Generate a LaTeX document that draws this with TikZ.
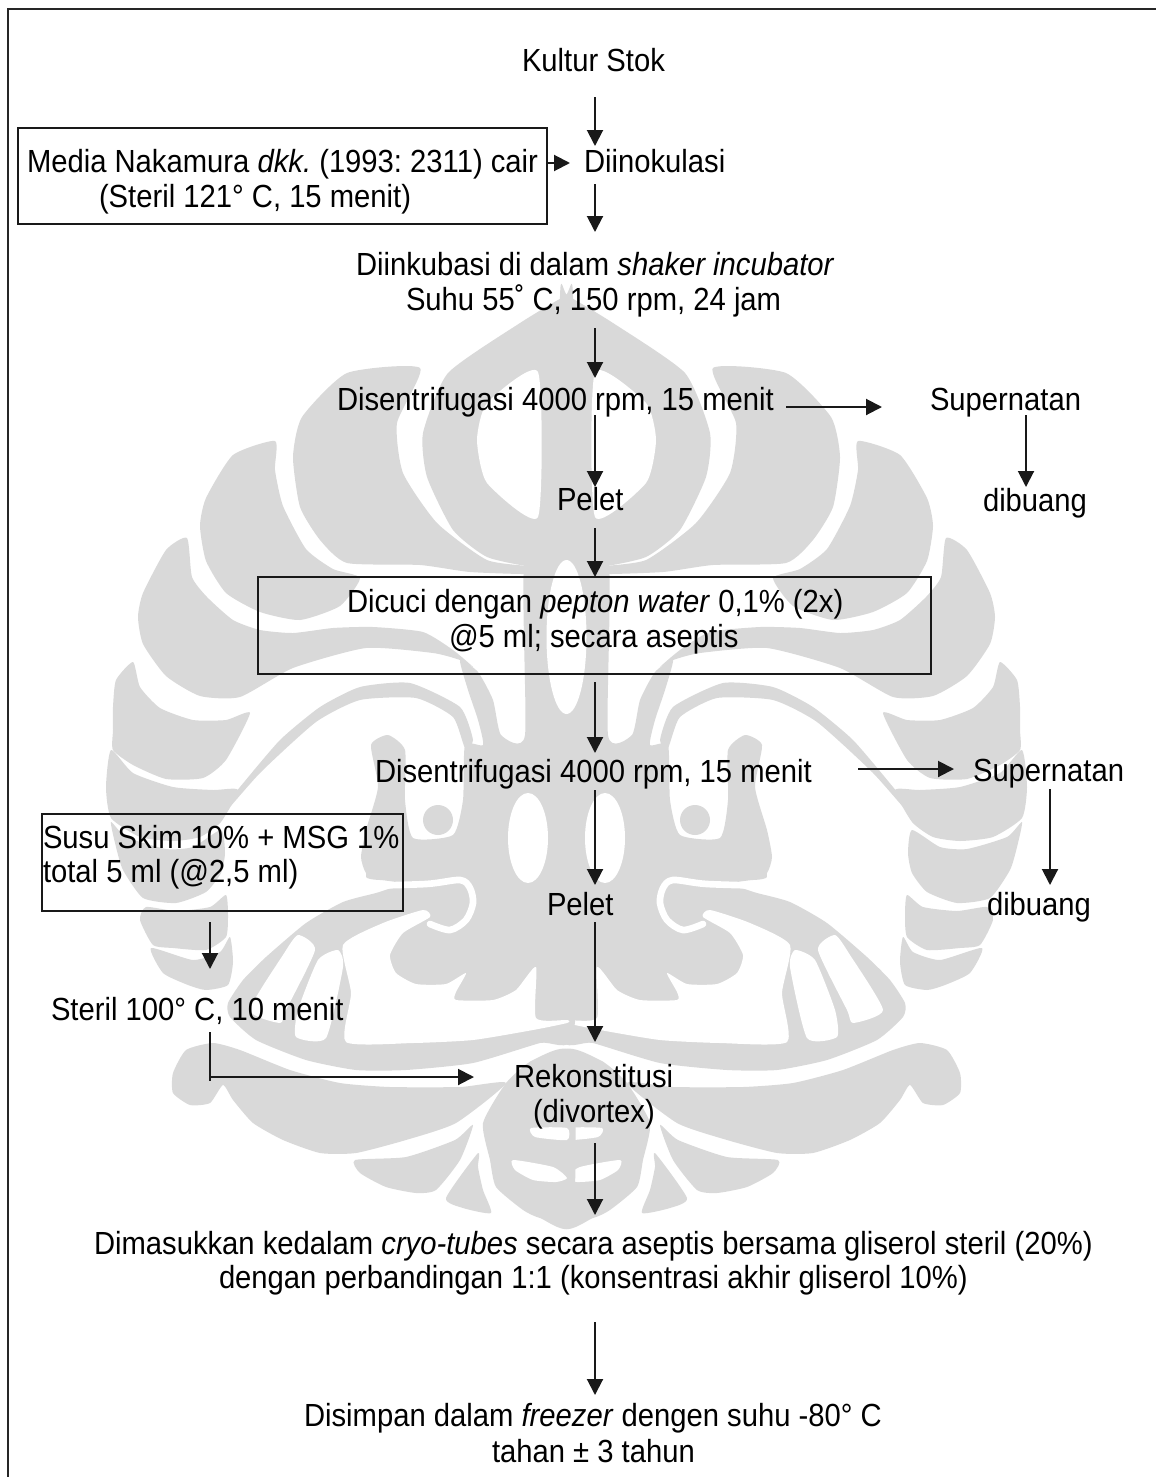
\documentclass[tikz,border=0pt]{standalone}
\usepackage{fontspec}
\setmainfont[FakeStretch=0.913]{Liberation Sans}
\usetikzlibrary{arrows.meta}
\frenchspacing
\definecolor{wmgray}{RGB}{217,217,217}
\tikzset{
  wm/.style={fill=wmgray,draw=none},
  wh/.style={fill=white,draw=none},
  txt/.style={anchor=base west,inner sep=0pt,outer sep=0pt,text=black,font=\fontsize{24pt}{30pt}\selectfont},
  arr/.style={line width=1.5pt,draw=black!90,-{Triangle[length=12pt,width=12pt]}},
  boxs/.style={draw=black!90,line width=1.5pt,inner sep=0pt,outer sep=0pt,fill=none},
  frameline/.style={line width=1.8pt,draw=black!85}
}
\newcommand{\gblob}[1]{\fill[wm] plot[smooth cycle,tension=0.35] coordinates {#1};}
\newcommand{\wblob}[1]{\fill[wh] plot[smooth cycle,tension=0.35] coordinates {#1};}
\newcommand{\wmhalf}{%
  % top teardrop and lobes
  \gblob{(560,296)(568,296)(613,323)(685,373)(710,433)(706,477)(680,530)(646,557)(600,567)(560,567)}
  \gblob{(713,368)(786,373)(831,417)(840,457)(833,507)(813,540)(786,563)(713,565)(663,572)(600,574)(598,567)(646,560)(696,523)(730,473)(736,423)}
  \gblob{(858,441)(900,455)(927,498)(933,526)(927,561)(907,593)(873,612)(833,620)(793,606)(773,578)(800,569)(827,549)(850,506)(858,470)}
  \gblob{(946,538)(967,550)(990,593)(995,617)(990,644)(967,676)(933,696)(893,697)(840,668)(767,648)(700,653)(673,660)(660,667)(680,650)(710,632)(760,627)(800,628)(840,633)(873,630)(900,620)(926,597)(941,577)}
  % central column and mass
  \gblob{(560,555)(608,555)(608,735)(632,735)(640,700)(655,672)(673,660)(665,690)(655,720)(650,745)(668,745)(670,800)(680,835)(720,838)(728,800)(728,750)(745,735)(762,745)(755,787)(767,830)(772,857)(767,873)(753,880)(560,882)}
  \gblob{(560,878)(707,880)(757,893)(790,902)(827,923)(867,957)(890,980)(905,1003)(903,1017)(877,1040)(827,1060)(777,1070)(727,1070)(660,1063)(593,1043)(560,1037)}
  % nested arc and outer lobes
  \gblob{(660,740)(673,707)(723,683)(773,687)(813,707)(853,740)(893,787)(915,815)(917,823)(873,773)(817,722)(773,700)(717,698)(680,717)(668,748)}
  \gblob{(883,713)(907,720)(940,720)(973,708)(993,687)(1000,662)(1017,680)(1020,707)(1020,730)(1020,750)(1000,765)(967,779)(930,778)(907,760)}
  \gblob{(1022,750)(1027,787)(1022,818)(993,837)(960,841)(933,837)(912,822)(895,790)(920,790)(960,787)(1000,773)}
  \gblob{(912,830)(940,847)(967,849)(1007,837)(1022,822)(1017,847)(1010,870)(990,898)(957,903)(927,892)(912,873)(908,853)}
  \gblob{(907,895)(923,907)(957,911)(987,907)(993,920)(980,945)(960,948)(927,950)(907,937)(905,915)}
  \gblob{(903,937)(913,952)(940,960)(982,948)(970,973)(945,985)(927,990)(905,985)(900,962)}
  % lower wing, centre and streaks
  \gblob{(627,1083)(673,1087)(743,1087)(793,1083)(843,1070)(893,1050)(920,1043)(947,1050)(960,1073)(960,1093)(943,1105)(923,1103)(910,1085)(900,1100)(880,1123)(850,1140)(813,1153)(777,1153)(727,1140)(677,1123)}
  \gblob{(560,1055)(600,1060)(627,1083)(650,1123)(643,1160)(637,1187)(610,1210)(593,1218)(560,1223)}
  \gblob{(660,1125)(678,1140)(727,1157)(778,1160)(773,1173)(747,1187)(717,1193)(697,1190)(673,1160)}
  \gblob{(655,1153)(687,1198)(670,1208)(642,1213)(650,1190)(655,1167)}
  % white cut-outs
  \wblob{(595,372)(646,403)(656,440)(646,483)(595,517)}
  \fill[wh] (605,838) ellipse (20 and 45);
  \draw[white,line width=5pt,line join=round,line cap=round] plot[smooth,tension=0.5] coordinates {(775,886)(707,884)(673,880)(663,888)(660,903)(667,920)(683,930)(703,924)};
  \wblob{(597,967)(617,990)(640,1000)(677,1000)(677,992)(667,973)(687,984)(717,984)(737,973)(743,955)(730,933)(703,917)(710,910)(750,923)(790,945)(782,993)(787,1042)(720,1043)(660,1040)(600,1030)(566,1023)(566,1020)(597,1018)}
  \wblob{(795,950)(790,967)(807,1038)(837,1037)(835,1010)(815,960)}
  \wblob{(818,950)(847,1010)(853,1023)(883,1010)(850,955)(835,935)}
  \wblob{(566,1128)(602,1128)(598,1137)(566,1140)}
  \wblob{(566,1178)(580,1167)(620,1160)(618,1170)(600,1180)(577,1182)}
  \fill[wm] (695,820) circle (15);
}
\begin{document}
\begin{tikzpicture}[x=0.75pt,y=-0.75pt]
\useasboundingbox (0,0) rectangle (1156,1477);
% watermark
\begin{scope}
  \wmhalf
\end{scope}
\begin{scope}[shift={(1133,0)},xscale=-1]
  \wmhalf
\end{scope}
\fill[wh] (566.5,637) ellipse (20 and 77);
% frame: top and left edges only
\coordinate (frTL) at (8,9);
\coordinate (frTR) at (1156,9);
\coordinate (frBL) at (8,1477);
\draw[frameline] (frBL) -- (frTL) -- (frTR);
% boxes
\node[boxs,minimum width=529*0.75pt,minimum height=96*0.75pt] (box1) at (282.5,176) {};
\node[boxs,minimum width=673*0.75pt,minimum height=97*0.75pt] (box2) at (594.5,625.5) {};
\node[boxs,minimum width=361*0.75pt,minimum height=97*0.75pt] (box3) at (222.5,862.5) {};
% texts
\node[txt] (kultur) at (522,71) {Kultur Stok};
\node[txt] (diinok) at (584,172) {Diinokulasi};
\node[txt] (media) at (27,172) {Media Nakamura \textit{dkk.} (1993: 2311) cair};
\node[txt] (steril1) at (99,207) {(Steril 121° C, 15 menit)};
\node[txt] (diink) at (356,275) {Diinkubasi di dalam \textit{shaker incubator}};
\node[txt] (suhu) at (406,310) {Suhu 55˚ C, 150 rpm, 24 jam};
\node[txt] (dis1) at (337,410) {Disentrifugasi 4000 rpm, 15 menit};
\node[txt] (sup1) at (930,410) {Supernatan};
\node[txt] (dib1) at (983,511) {dibuang};
\node[txt] (pel1) at (557,510) {Pelet};
\node[txt] (cuci1) at (347,612) {Dicuci dengan \textit{pepton water} 0,1\% (2x)};
\node[txt] (cuci2) at (449,647) {@5 ml; secara aseptis};
\node[txt] (dis2) at (375,782) {Disentrifugasi 4000 rpm, 15 menit};
\node[txt] (sup2) at (973,781) {Supernatan};
\node[txt] (dib2) at (987,915) {dibuang};
\node[txt] (pel2) at (547,915) {Pelet};
\node[txt] (susu1) at (43,848) {Susu Skim 10\% + MSG 1\%};
\node[txt] (susu2) at (43,882) {total 5 ml (@2,5 ml)};
\node[txt] (steril2) at (51,1020) {Steril 100° C, 10 menit};
\node[txt] (rek1) at (514,1087) {Rekonstitusi};
\node[txt] (rek2) at (533,1122) {(divortex)};
\node[txt] (mas1) at (94,1254) {Dimasukkan kedalam \textit{cryo-tubes} secara aseptis bersama gliserol steril (20\%)};
\node[txt] (mas2) at (219,1288) {dengan perbandingan 1:1 (konsentrasi akhir gliserol 10\%)};
\node[txt] (sim1) at (304,1426) {Disimpan dalam \textit{freezer} dengen suhu -80° C};
\node[txt] (sim2) at (492,1462) {tahan ± 3 tahun};
% connector ends
\coordinate (a1s) at (595,97);   \coordinate (a1e) at (595,146);
\coordinate (a2s) at (595,184);  \coordinate (a2e) at (595,232);
\coordinate (a3s) at (595,328);  \coordinate (a3e) at (595,378);
\coordinate (a4s) at (595,415);  \coordinate (a4e) at (595,487);
\coordinate (a5s) at (595,528);  \coordinate (a5e) at (595,577);
\coordinate (a6s) at (595,682);  \coordinate (a6e) at (595,753);
\coordinate (a7s) at (595,790);  \coordinate (a7e) at (595,885);
\coordinate (a8s) at (595,922);  \coordinate (a8e) at (595,1042);
\coordinate (a9s) at (595,1143); \coordinate (a9e) at (595,1215);
\coordinate (a10s) at (595,1322);\coordinate (a10e) at (595,1395);
\coordinate (m1) at (570,163);
\coordinate (h1s) at (786,407);  \coordinate (h1e) at (882,407);
\coordinate (h2s) at (858,769);  \coordinate (h2e) at (954,769);
\coordinate (s1s) at (1026,415); \coordinate (s1e) at (1026,487);
\coordinate (s2s) at (1050,789); \coordinate (s2e) at (1050,885);
\coordinate (b3s) at (210,922);  \coordinate (b3e) at (210,969);
\coordinate (e1s) at (210,1032); \coordinate (e1c) at (210,1081);
\coordinate (e1t) at (474,1077); \coordinate (e1b) at (210,1077);
% connectors
\foreach \c in {a1,a2,a3,a4,a5,a6,a7,a8,a9,a10,h1,h2,s1,s2,b3}{\draw[arr] (\c s) -- (\c e);}
\draw[arr] (box1.east |- m1) -- (m1);
\draw[line width=1.5pt,draw=black!90] (e1s) -- (e1c);
\draw[arr] (e1b) -- (e1t);
\end{tikzpicture}
\end{document}
